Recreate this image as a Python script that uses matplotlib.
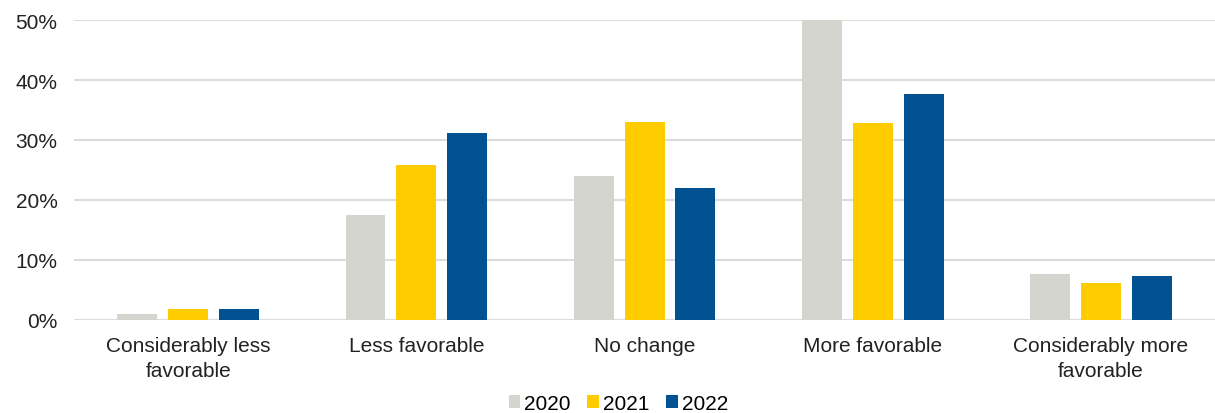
import numpy as np
import matplotlib.pyplot as plt

plt.rcParams['font.family'] = ['Liberation Sans', 'DejaVu Sans']

categories = ["Considerably less\nfavorable", "Less favorable", "No change",
              "More favorable", "Considerably more\nfavorable"]
years = ["2020", "2021", "2022"]
v2020 = [1.0, 17.5, 23.9, 50.0, 7.6]
v2021 = [1.8, 25.8, 33.0, 32.9, 6.1]
v2022 = [1.8, 31.2, 21.9, 37.6, 7.3]
colors = ["#d5d5d0", "#ffcc00", "#005293"]

fig = plt.figure(figsize=(12.15, 4.14), dpi=100)
ax = fig.add_axes([0.061, 0.2254, 0.939, 0.7236])

x = np.arange(len(categories))
w = 0.175
step = 0.223
for i, (vals, yr) in enumerate(zip([v2020, v2021, v2022], years)):
    ax.bar(x + (i - 1) * step, vals, w, color=colors[i], label=yr, zorder=3)

ax.set_xlim(-0.5, len(categories) - 0.5)
ax.set_ylim(0, 50)
ax.set_yticks(range(0, 51, 10))
ax.set_yticklabels([f"{t}%" for t in range(0, 51, 10)], fontsize=15, color="#222222")
ax.set_xticks(x)
ax.set_xticklabels(categories, fontsize=15, color="#222222", linespacing=1.35)
ax.tick_params(length=0, pad=12)
ax.tick_params(axis='y', pad=12)
ax.yaxis.grid(True, color="#dcdcdc", linewidth=1.5, zorder=0)
for s in ax.spines.values():
    s.set_visible(False)

ax.legend(loc="lower center", bbox_to_anchor=(0.477, -0.345), ncol=3, frameon=False,
          fontsize=15, handlelength=0.55, handleheight=0.55, handletextpad=0.2,
          columnspacing=0.8, borderpad=0)

fig.savefig("out.png", dpi=100)
